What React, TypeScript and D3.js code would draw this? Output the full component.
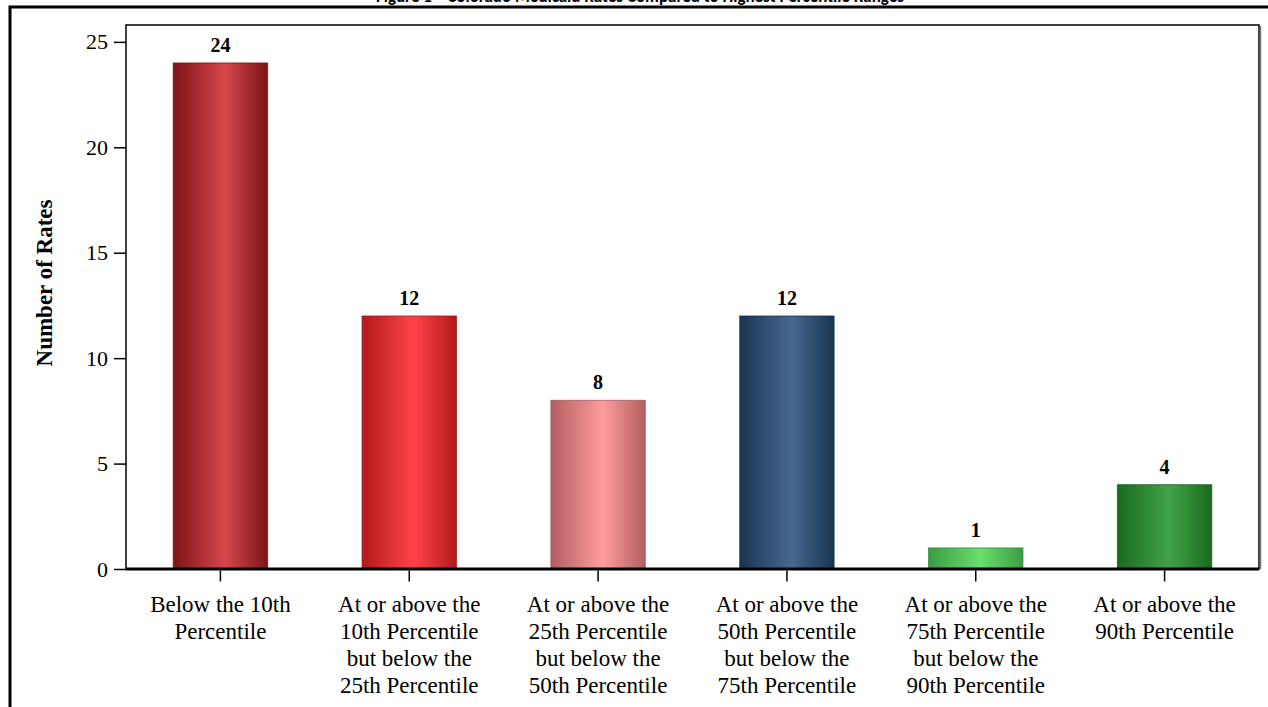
import React, { useEffect, useRef } from "react";
import * as d3 from "d3";

const CATEGORIES = [
  ["Below the 10th", "Percentile"],
  ["At or above the", "10th Percentile", "but below the", "25th Percentile"],
  ["At or above the", "25th Percentile", "but below the", "50th Percentile"],
  ["At or above the", "50th Percentile", "but below the", "75th Percentile"],
  ["At or above the", "75th Percentile", "but below the", "90th Percentile"],
  ["At or above the", "90th Percentile"],
];
const VALUES = [24, 12, 8, 12, 1, 4];
// [edge, middle] colours of each bar's horizontal gradient
const EDGE_COLORS = ["#7c1418", "#b3191c", "#b35e60", "#1a3452", "#3c9c44", "#1a6a20"];
const MID_COLORS = ["#d6474b", "#ff4448", "#ff9c9e", "#45698f", "#68df6c", "#41a348"];
const Y_TICKS = [0, 5, 10, 15, 20, 25];

export default function App() {
  const svgRef = useRef<SVGSVGElement>(null);

  useEffect(() => {
    const width = 1268;
    const height = 707;
    const margin = { top: 25, right: 9, bottom: 138, left: 126 };
    const innerW = width - margin.left - margin.right;
    const innerH = height - margin.top - margin.bottom;

    const svg = d3.select(svgRef.current);
    svg.selectAll("*").remove();
    svg.attr("width", width).attr("height", height);

    const font = "'Liberation Serif', 'Times New Roman', serif";

    // gradients
    const defs = svg.append("defs");
    VALUES.forEach((_, i) => {
      const lg = defs.append("linearGradient")
        .attr("id", `bar-grad-${i}`)
        .attr("x1", "0%").attr("x2", "100%").attr("y1", "0%").attr("y2", "0%");
      lg.append("stop").attr("offset", "0%").attr("stop-color", EDGE_COLORS[i]);
      lg.append("stop").attr("offset", "55%").attr("stop-color", MID_COLORS[i]);
      lg.append("stop").attr("offset", "100%").attr("stop-color", EDGE_COLORS[i]);
    });

    // title, cut off above the frame as in the source
    svg.append("text")
      .attr("x", 640).attr("y", 2)
      .attr("text-anchor", "middle")
      .style("font-family", "Carlito, 'Liberation Sans', Arial, sans-serif")
      .style("font-size", "17px").style("font-weight", 700)
      .text("Figure 1—Colorado Medicaid Rates Compared to Highest Percentile Ranges");

    // outer frame
    svg.append("rect")
      .attr("x", 10).attr("y", 7)
      .attr("width", 1300).attr("height", 800)
      .attr("fill", "none").attr("stroke", "#000").attr("stroke-width", 3);

    const g = svg.append("g").attr("transform", `translate(${margin.left},${margin.top})`);

    const x = d3.scaleBand<number>()
      .domain(VALUES.map((_, i) => i))
      .range([0, innerW])
      .paddingInner(0.5).paddingOuter(0.25);

    const y = d3.scaleLinear().domain([0, 25.8]).range([innerH, 0]);

    // plot frame
    g.append("rect")
      .attr("x", 0).attr("y", 0).attr("width", innerW).attr("height", innerH)
      .attr("fill", "#fff").attr("stroke", "#000").attr("stroke-width", 1.5);
    g.append("line")
      .attr("x1", innerW + 1.5).attr("x2", innerW + 1.5).attr("y1", 1).attr("y2", innerH)
      .attr("stroke", "#777").attr("stroke-width", 1.5);

    // bars
    g.selectAll(".bar")
      .data(VALUES)
      .join("rect")
      .attr("class", "bar")
      .attr("x", (_, i) => x(i)!)
      .attr("width", x.bandwidth())
      .attr("y", d => y(d))
      .attr("height", d => innerH - y(d))
      .attr("fill", (_, i) => `url(#bar-grad-${i})`)
      .attr("stroke", (_, i) => d3.color(EDGE_COLORS[i])!.darker(0.6).formatHex())
      .attr("stroke-opacity", 0.7)
      .attr("stroke-width", 1);

    // value labels
    g.selectAll(".val")
      .data(VALUES)
      .join("text")
      .attr("class", "val")
      .attr("x", (_, i) => x(i)! + x.bandwidth() / 2)
      .attr("y", d => y(d) - 11)
      .attr("text-anchor", "middle")
      .style("font-family", font).style("font-size", "20px").style("font-weight", 700)
      .text(d => d);

    // y axis
    const yAxis = g.append("g")
      .call(d3.axisLeft(y).tickValues(Y_TICKS).tickSize(12).tickPadding(6));
    yAxis.select(".domain").remove();
    yAxis.selectAll(".tick line").attr("stroke", "#000").attr("stroke-width", 1.5);
    yAxis.selectAll(".tick text")
      .attr("fill", "#000")
      .style("font-family", font).style("font-size", "22px");

    // x axis
    g.append("line")
      .attr("x1", 0).attr("x2", innerW).attr("y1", innerH).attr("y2", innerH)
      .attr("stroke", "#000").attr("stroke-width", 3);
    const xAxis = g.append("g")
      .attr("transform", `translate(0,${innerH + 1.5})`)
      .call(d3.axisBottom(x).tickSize(11).tickFormat(() => ""));
    xAxis.select(".domain").remove();
    xAxis.selectAll(".tick line").attr("stroke", "#000").attr("stroke-width", 1.5);

    // category labels
    g.selectAll(".cat")
      .data(CATEGORIES)
      .join("text")
      .attr("class", "cat")
      .attr("text-anchor", "middle")
      .style("font-family", font).style("font-size", "23px")
      .each(function (lines, i) {
        const t = d3.select(this);
        lines.forEach((ln, k) => {
          t.append("tspan")
            .attr("x", x(i)! + x.bandwidth() / 2)
            .attr("y", innerH + 43 + k * 27)
            .text(ln);
        });
      });

    // y title
    g.append("text")
      .attr("transform", "rotate(-90)")
      .attr("x", -(innerH / 2) + 14).attr("y", -74)
      .attr("text-anchor", "middle")
      .style("font-family", font).style("font-size", "23px").style("font-weight", 700)
      .text("Number of Rates");
  }, []);

  return (
    <svg ref={svgRef} style={{ position: "absolute", left: 0, top: 0, display: "block" }} />
  );
}
